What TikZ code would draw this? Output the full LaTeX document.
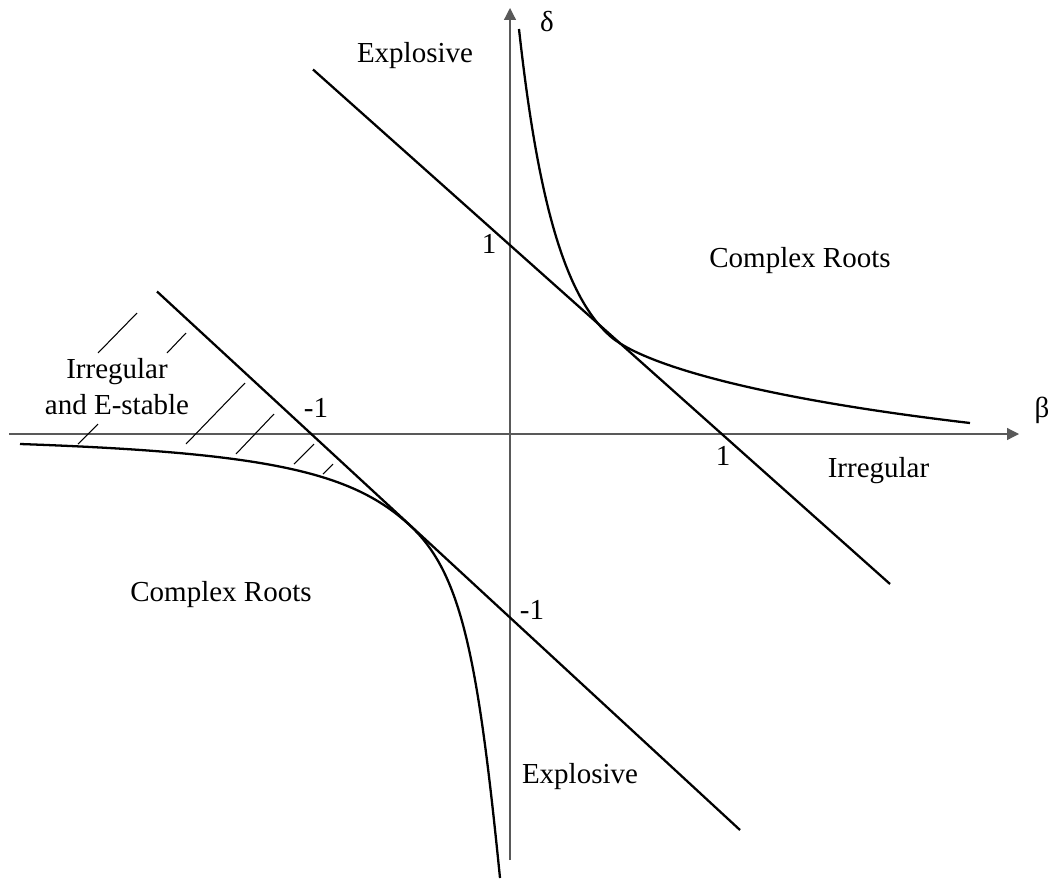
\documentclass[tikz,border=0pt]{standalone}
\usepackage{fontspec}
\setmainfont{Liberation Serif}
\usetikzlibrary{arrows.meta}
\begin{document}
\begin{tikzpicture}[x=0.02cm,y=-0.02cm,
  axis/.style={draw=black!65, line width=0.7pt, -{Triangle[length=6.8pt,width=6.8pt]}},
  curve/.style={draw=black, line width=1.3pt},
  hatch/.style={draw=black, line width=0.6pt},
  lbl/.style={font=\fontsize{16.5}{20}\selectfont, inner sep=0pt, anchor=base}]
\useasboundingbox (0,0) rectangle (1054,882);
% axes
\coordinate (xs) at (9,434);
\coordinate (xe) at (1019,434);
\coordinate (ys) at (510,860);
\coordinate (ye) at (510,8);
\draw[axis] (xs) -- (xe);
\draw[axis] (ys) -- (ye);
% straight lines
\coordinate (u1) at (313,69.5);
\coordinate (u2) at (890,584);
\coordinate (l1) at (157,291.5);
\coordinate (l2) at (740,830);
\draw[curve] (u1) -- (u2);
\draw[curve] (l1) -- (l2);
% curves
\coordinate (ua) at (519,29);
\coordinate (ut) at (610,336);
\coordinate (ub) at (970,423);
\draw[curve] (ua) .. controls (538.25,204.3) and (565.55,296.4) .. (ut)
  .. controls (639,361.8) and (743.5,396.4) .. (ub);
\coordinate (la) at (20,444);
\coordinate (lt) at (410,525.5);
\coordinate (lb) at (500,878);
\draw[curve] (la) .. controls (271,452.8) and (352.8,472.6) .. (lt)
  .. controls (461.3,572.9) and (477.7,655.5) .. (lb);
% hatching
\draw[hatch] (98,353) -- (137,313);
\draw[hatch] (167,353) -- (186,333);
\draw[hatch] (78,444) -- (98,424);
\draw[hatch] (186,444) -- (245,383);
\draw[hatch] (236,454) -- (274,414);
\draw[hatch] (294,464) -- (314,444);
\draw[hatch] (323,474) -- (333,464);
% labels
\node[lbl] (delta) at (547,32) {δ};
\node[lbl] (beta) at (1042,417) {β};
\node[lbl] (expT) at (415,63) {Explosive};
\node[lbl] (crT) at (800,267) {Complex Roots};
\node[lbl] (irT) at (117,378) {Irregular};
\node[lbl] (irT2) at (117,414) {and E-stable};
\node[lbl] (irR) at (878.5,477) {Irregular};
\node[lbl] (crL) at (221,601) {Complex Roots};
\node[lbl] (expB) at (580,783) {Explosive};
\node[lbl] (oneY) at (489,253) {1};
\node[lbl] (oneX) at (723,465) {1};
\node[lbl] (mX) at (316,417) {-1};
\node[lbl] (mY) at (532,619) {-1};
\end{tikzpicture}
\end{document}
